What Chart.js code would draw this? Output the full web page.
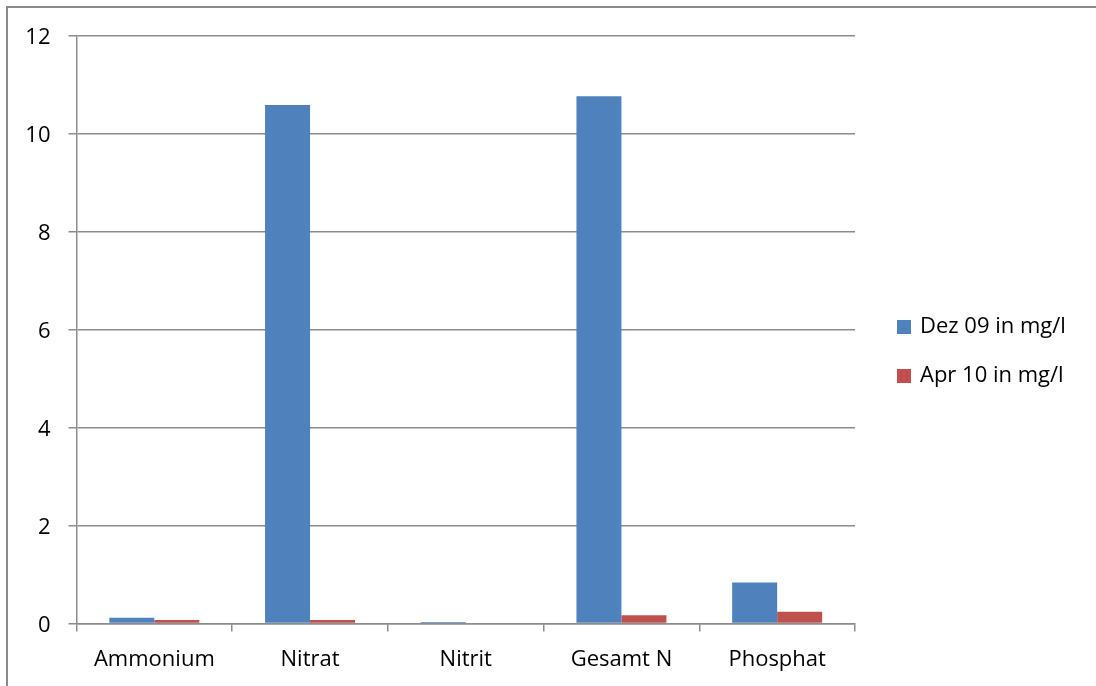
<!DOCTYPE html>
<html>
<head>
<meta charset="utf-8">
<script src="https://cdn.jsdelivr.net/npm/chart.js@4/dist/chart.umd.min.js"></script>
<style>
  html, body { margin: 0; padding: 0; background: #fff; }
  #wrap { width: 1096px; height: 686px; position: relative; }
</style>
</head>
<body>
<div id="wrap"><canvas id="c" width="1096" height="686"></canvas></div>
<script>
// Nährstoffwerte je Parameter
const categories = ['Ammonium', 'Nitrat', 'Nitrit', 'Gesamt N', 'Phosphat'];
const dez09 = [0.12, 10.59, 0.03, 10.77, 0.84];
const apr10 = [0.07, 0.07, 0, 0.17, 0.24];
const seriesLabels = ['Dez 09 in mg/l', 'Apr 10 in mg/l'];
const yTicks = [0, 2, 4, 6, 8, 10, 12];

const FONT = "'Open Sans', sans-serif";
const FONT_SIZE = 22;
const GRID = '#8c8c8c';

// Rahmen links und oben
const framePlugin = {
  id: 'frame',
  beforeDraw(chart) {
    const ctx = chart.ctx;
    ctx.save();
    ctx.fillStyle = '#fff';
    ctx.fillRect(0, 0, chart.width, chart.height);
    ctx.strokeStyle = '#8a8a8a';
    ctx.lineWidth = 2;
    ctx.beginPath();
    ctx.moveTo(7, chart.height);
    ctx.lineTo(7, 7);
    ctx.lineTo(chart.width, 7);
    ctx.stroke();
    ctx.restore();
  }
};

// Legende rechts neben dem Diagramm
const sideLegend = {
  id: 'sideLegend',
  afterDraw(chart) {
    const ctx = chart.ctx;
    const area = chart.chartArea;
    const x0 = area.right + 42;
    const y0 = area.top + 290;
    ctx.save();
    ctx.font = FONT_SIZE + 'px ' + FONT;
    ctx.textBaseline = 'middle';
    ctx.textAlign = 'left';
    chart.data.datasets.forEach((ds, i) => {
      const y = y0 + i * 49;
      ctx.fillStyle = ds.backgroundColor;
      ctx.fillRect(x0, y - 6, 14, 14);
      ctx.fillStyle = '#000';
      ctx.fillText(ds.label, x0 + 23, y + 1);
    });
    ctx.restore();
  }
};

new Chart(document.getElementById('c'), {
  type: 'bar',
  data: {
    labels: categories,
    datasets: [
      { label: seriesLabels[0], data: dez09, backgroundColor: '#4F81BD' },
      { label: seriesLabels[1], data: apr10, backgroundColor: '#C0504D' }
    ]
  },
  options: {
    responsive: false,
    animation: false,
    devicePixelRatio: 1,
    categoryPercentage: 0.578,
    barPercentage: 1,
    layout: { padding: { left: 0, top: 36, right: 241, bottom: 0 } },
    plugins: {
      legend: { display: false },
      tooltip: { enabled: false }
    },
    scales: {
      x: {
        offset: true,
        grid: {
          offset: true,
          drawOnChartArea: false,
          drawTicks: true,
          tickLength: 8,
          color: GRID,
          lineWidth: 1.5
        },
        border: { display: true, color: GRID, width: 1.5 },
        ticks: { color: '#000', font: { family: FONT, size: FONT_SIZE }, padding: 15, maxRotation: 0 },
        afterFit(scale) { scale.height = 62.5; }
      },
      y: {
        min: 0,
        max: 12,
        afterBuildTicks(scale) { scale.ticks = yTicks.map(v => ({ value: v })); },
        grid: {
          drawTicks: true,
          tickLength: 8,
          color: GRID,
          lineWidth: 1.5
        },
        border: { display: true, color: GRID, width: 1.5 },
        ticks: { color: '#000', font: { family: FONT, size: FONT_SIZE }, padding: 18, labelOffset: 2 },
        afterFit(scale) { scale.width = 76.5; }
      }
    }
  },
  plugins: [framePlugin, sideLegend]
});
</script>
</body>
</html>
